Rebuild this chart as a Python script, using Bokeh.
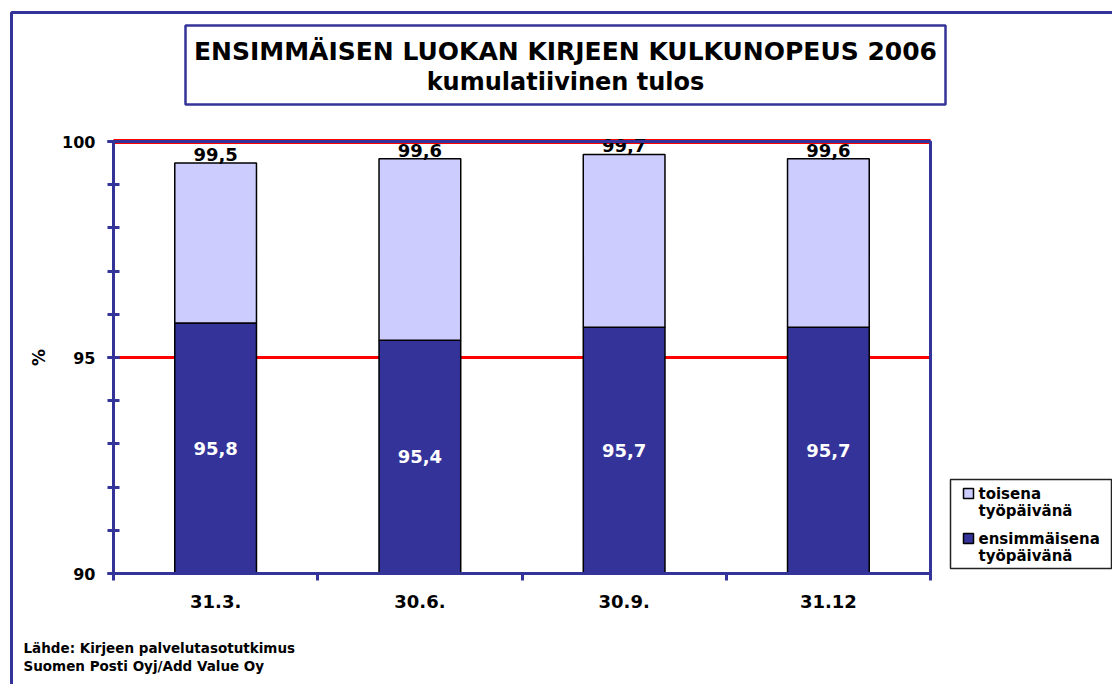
from bokeh.plotting import figure
from bokeh.models import (ColumnDataSource, FixedTicker, SingleIntervalTicker, Label,
                          BoxAnnotation, LabelSet, Range1d, LinearAxis)
from bokeh.core.properties import value
from bokeh.embed import file_html
from bokeh.resources import INLINE

# ---- data ----
categories = ["31.3.", "30.6.", "30.9.", "31.12"]
first_day = [95.8, 95.4, 95.7, 95.7]          # ensimmäisenä työpäivänä (cumulative)
second_day_total = [99.5, 99.6, 99.7, 99.6]   # toisena työpäivänä (cumulative)
series_names = [["toisena", "työpäivänä"], ["ensimmäisena", "työpäivänä"]]
title_lines = ["ENSIMMÄISEN LUOKAN KIRJEEN KULKUNOPEUS 2006", "kumulatiivinen tulos"]
source_lines = ["Lähde: Kirjeen palvelutasotutkimus", "Suomen Posti Oyj/Add Value Oy"]
y_label = "%"
y_min, y_max = 90, 100
target_level = 95

# ---- styles / layout ----
DARK = "#333399"
LIGHT = "#CCCCFF"
FONT = "DejaVu Sans"
W, H = 1112, 684
# plot-area box in canvas pixels
AL, AR, AT, AB = 113, 930, 141, 573

n = len(categories)
xu = (AR - AL) / n
yu = (AB - AT) / (y_max - y_min)
x_range = Range1d(0 - AL / xu, n + (W - AR) / xu)
y_range = Range1d(y_min - (H - AB) / yu, y_max + AT / yu)

def sx(X):  # canvas x -> frame screen units
    return X

def sy(Y):  # canvas y (from top) -> frame screen units (from bottom)
    return H - Y

def box(left, right, top, bottom, **kw):
    return BoxAnnotation(left=sx(left), right=sx(right), top=sy(top), bottom=sy(bottom),
                         left_units="screen", right_units="screen",
                         top_units="screen", bottom_units="screen", **kw)

def text(x, y, t, size, align="left", color="black"):
    return Label(x=sx(x), y=sy(y), x_units="screen", y_units="screen", text=t,
                 text_align=align, text_baseline="middle",
                 text_font=FONT, text_font_style="bold", text_font_size=size,
                 text_color=color)

p = figure(width=W, height=H, output_backend="svg", toolbar_location=None,
           x_range=x_range, y_range=y_range, x_axis_type=None, y_axis_type=None,
           min_border=0, min_border_left=0, min_border_right=0, min_border_top=0, min_border_bottom=0,
           background_fill_color="white", border_fill_color="white")
p.xgrid.visible = False
p.ygrid.visible = False
p.outline_line_color = None

# outer frame
p.add_layout(box(11, 1400, 12, 1000, fill_color=None, line_color=DARK, line_alpha=1,
                 line_width=3, level="underlay"))

# reference lines at target level and top
p.segment(x0=[0, 0], x1=[n, n], y0=[target_level, y_max], y1=[target_level, y_max],
          line_color="red", line_width=[3, 5])

xs = [i + 0.5 for i in range(n)]
src = ColumnDataSource(dict(
    x=xs,
    first=first_day,
    total=second_day_total,
    base=[y_min] * n,
    mid=[(y_min + v) / 2 for v in first_day],
    first_txt=[f"{v:.1f}".replace(".", ",") for v in first_day],
    total_txt=[f"{v:.1f}".replace(".", ",") for v in second_day_total],
))

p.vbar(x="x", width=0.4, bottom="base", top="first", source=src,
       fill_color=DARK, line_color="black", line_width=1.5)
p.vbar(x="x", width=0.4, bottom="first", top="total", source=src,
       fill_color=LIGHT, line_color="black", line_width=1.5)

p.add_layout(LabelSet(x="x", y="total", text="total_txt", source=src,
                      text_align="center", text_baseline="alphabetic", y_offset=2,
                      text_font=value(FONT), text_font_style="bold", text_font_size="18px",
                      text_color="black"))
p.add_layout(LabelSet(x="x", y="mid", text="first_txt", source=src,
                      text_align="center", text_baseline="middle",
                      text_font=value(FONT), text_font_style="bold", text_font_size="18px",
                      text_color="white"))

# plot-area border (top and right edges; left/bottom are the axes)
p.add_layout(BoxAnnotation(left=0, right=n, bottom=y_min, top=y_max,
                           fill_color=None, line_color=DARK, line_alpha=1, line_width=3))

# y axis
yax = LinearAxis(fixed_location=0, bounds=(y_min, y_max))
yax.ticker = SingleIntervalTicker(interval=5, num_minor_ticks=5)
yax.axis_line_color = DARK
yax.axis_line_width = 3
yax.major_tick_line_color = DARK
yax.major_tick_line_width = 3
yax.major_tick_in = 6
yax.major_tick_out = 6
yax.minor_tick_line_color = DARK
yax.minor_tick_line_width = 3
yax.minor_tick_in = 6
yax.minor_tick_out = 6
yax.major_label_text_font = FONT
yax.major_label_text_font_style = "bold"
yax.major_label_text_font_size = "16px"
yax.major_label_text_color = "black"
yax.major_label_standoff = 12
yax.axis_label = y_label
yax.axis_label_text_font = FONT
yax.axis_label_text_font_style = "bold"
yax.axis_label_text_font_size = "17px"
yax.axis_label_text_color = "black"
yax.axis_label_standoff = 10
p.add_layout(yax, "left")

# x axis: labels at centres, ticks at category boundaries
xax = LinearAxis(fixed_location=y_min, bounds=(0, n))
xax.ticker = FixedTicker(ticks=xs, minor_ticks=list(range(n + 1)))
xax.major_label_overrides = {x: c for x, c in zip(xs, categories)}
xax.axis_line_color = DARK
xax.axis_line_width = 3
xax.major_tick_line_color = None
xax.major_tick_in = 0
xax.major_tick_out = 0
xax.minor_tick_line_color = DARK
xax.minor_tick_line_width = 3
xax.minor_tick_in = 0
xax.minor_tick_out = 7
xax.major_label_text_font = FONT
xax.major_label_text_font_style = "bold"
xax.major_label_text_font_size = "18px"
xax.major_label_text_color = "black"
xax.major_label_standoff = 14
p.add_layout(xax, "below")

# title box
p.add_layout(box(185, 945, 25, 104, fill_color="white", fill_alpha=1,
                 line_color=DARK, line_alpha=1, line_width=2.5))
for t, yy, fs in zip(title_lines, [51, 81], ["25px", "24px"]):
    p.add_layout(text(565, yy, t, fs, align="center"))

# legend
p.add_layout(box(950, 1111, 479, 568, fill_color="white", fill_alpha=1,
                 line_color="#222222", line_alpha=1, line_width=1.5))
for (l1, l2), col, top in zip(series_names, [LIGHT, DARK], [488, 533]):
    p.add_layout(box(963, 973, top, top + 10, fill_color=col, fill_alpha=1,
                     line_color="black", line_alpha=1, line_width=1.5))
    p.add_layout(text(978, top + 5, l1, "15px"))
    p.add_layout(text(978, top + 22, l2, "15px"))

# source footer
for t, yy in zip(source_lines, [647, 665]):
    p.add_layout(text(23, yy, t, "13.5px"))

open("out.html", "w").write(file_html(p, INLINE))
